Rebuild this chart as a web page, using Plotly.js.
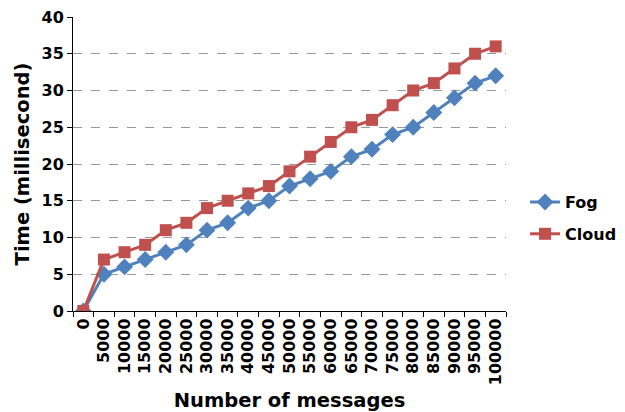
<!DOCTYPE html>
<html>
<head>
<meta charset="utf-8">
<script src="https://cdn.plot.ly/plotly-3.0.1.min.js"></script>
<style>html,body{margin:0;padding:0;background:#fff;}#chart{width:625px;height:412px;}</style>
</head>
<body>
<div id="chart"></div>
<script>
const categories = ["0","5000","10000","15000","20000","25000","30000","35000","40000","45000","50000","55000","60000","65000","70000","75000","80000","85000","90000","95000","100000"];
const fogValues = [0,5,6,7,8,9,11,12,14,15,17,18,19,21,22,24,25,27,29,31,32];
const cloudValues = [0,7,8,9,11,12,14,15,16,17,19,21,23,25,26,28,30,31,33,35,36];
const yTicks = [0,5,10,15,20,25,30,35,40];

const font = "DejaVu Sans, Verdana, sans-serif";
const traces = [
  {x: categories, y: fogValues, name: "Fog", type: "scatter", mode: "lines+markers", legendgroup: "fog",
   line: {color: "#4F81BD", width: 3}, marker: {symbol: "diamond", size: 13, color: "#4F81BD"}},
  {x: categories, y: cloudValues, name: "Cloud", type: "scatter", mode: "lines+markers", legendgroup: "cloud",
   line: {color: "#C0504D", width: 3}, marker: {symbol: "square", size: 12, color: "#C0504D"}}
];
const layout = {
  width: 625, height: 412,
  margin: {l: 73, r: 119, t: 17, b: 101, autoexpand: false},
  paper_bgcolor: "#fff", plot_bgcolor: "#fff",
  font: {family: font, color: "#000"},
  showlegend: true,
  legend: {x: 1.044, y: 0.316, xanchor: "left", yanchor: "middle", traceorder: "grouped", tracegroupgap: 8,
           font: {family: font, size: 16, color: "#000", weight: "bold"}},
  xaxis: {
    type: "category", tickson: "boundaries", ticks: "outside", ticklen: 5, tickcolor: "#000",
    showline: true, linecolor: "#000", linewidth: 1, showgrid: false, zeroline: false,
    tickangle: -90, tickfont: {family: font, size: 16, color: "#000", weight: "bold"},
    title: {text: "Number of messages", font: {family: font, size: 19.5, color: "#000", weight: "bold"}, standoff: 9},
    range: [-0.5, 20.5], automargin: false
  },
  yaxis: {
    range: [0, 40], tickvals: yTicks, ticks: "outside", ticklen: 5, tickcolor: "#000",
    showline: true, linecolor: "#000", linewidth: 1, zeroline: false,
    showgrid: true, gridcolor: "#999", griddash: "dash", gridwidth: 1,
    tickfont: {family: font, size: 16, color: "#000", weight: "bold"},
    title: {text: "Time (millisecond)", font: {family: font, size: 19.5, color: "#000", weight: "bold"}, standoff: 6},
    automargin: false
  }
};
Plotly.newPlot("chart", traces, layout, {displayModeBar: false, staticPlot: true});
</script>
</body>
</html>
